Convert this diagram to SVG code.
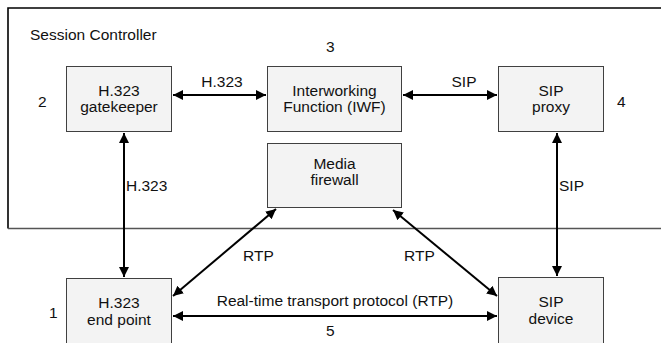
<svg xmlns="http://www.w3.org/2000/svg" width="661" height="343" viewBox="0 0 661 343">
  <defs>
    <marker id="arrow" viewBox="0 0 10 10" refX="10" refY="5" markerWidth="5.2" markerHeight="5" markerUnits="strokeWidth" orient="auto-start-reverse">
      <path d="M0,0 L10,5 L0,10 Z" fill="#000"/>
    </marker>
    <style>
      text { font-family: "Liberation Sans", Arial, sans-serif; font-size: 15.5px; fill: #111; }
      .c { text-anchor: middle; }
      .box { fill: #f3f3f3; stroke: #404040; stroke-width: 1; }
      .link { stroke: #000; stroke-width: 2; fill: none; marker-start: url(#arrow); marker-end: url(#arrow); }
    </style>
  </defs>
  <rect width="661" height="343" fill="#fff"/>

  <!-- Session controller boundary -->
  <g id="session-controller">
    <path d="M661,8 H8 V228.5" fill="none" stroke="#000" stroke-width="1.6"/>
    <path d="M8,228.5 H661" fill="none" stroke="#555" stroke-width="1.6"/>
    <text x="30" y="40">Session Controller</text>
  </g>

  <g id="gatekeeper">
    <rect class="box" x="66.5" y="66.5" width="105" height="65"/>
    <text class="c" x="119" y="96">H.323</text>
    <text class="c" x="119" y="112">gatekeeper</text>
    <text x="38" y="107">2</text>
  </g>

  <g id="iwf">
    <rect class="box" x="267.5" y="66.5" width="134" height="65"/>
    <text class="c" x="334.5" y="96">Interworking</text>
    <text class="c" x="334.5" y="112">Function (IWF)</text>
    <text x="326" y="52">3</text>
  </g>

  <g id="sip-proxy">
    <rect class="box" x="498.5" y="66.5" width="105" height="65"/>
    <text class="c" x="551" y="96">SIP</text>
    <text class="c" x="551" y="112">proxy</text>
    <text x="617" y="107">4</text>
  </g>

  <g id="media-firewall">
    <rect class="box" x="267.5" y="143.5" width="134" height="64"/>
    <text class="c" x="334.5" y="169">Media</text>
    <text class="c" x="334.5" y="185">firewall</text>
  </g>

  <g id="h323-endpoint">
    <rect class="box" x="66.5" y="278.5" width="105" height="70"/>
    <text class="c" x="119" y="308">H.323</text>
    <text class="c" x="119" y="325">end point</text>
    <text x="49" y="318">1</text>
  </g>

  <g id="sip-device">
    <rect class="box" x="498.5" y="277.5" width="105" height="70"/>
    <text class="c" x="551" y="307">SIP</text>
    <text class="c" x="551" y="324">device</text>
  </g>

  <g id="connectors">
    <line class="link" x1="173" y1="95" x2="266" y2="95"/>
    <line class="link" x1="403" y1="95" x2="497" y2="95"/>
    <line class="link" x1="124" y1="133" x2="124" y2="277"/>
    <line class="link" x1="557" y1="133" x2="557" y2="276"/>
    <line class="link" x1="276" y1="209" x2="173" y2="296"/>
    <line class="link" x1="393" y1="210" x2="497" y2="296"/>
    <line class="link" x1="173" y1="316" x2="497" y2="316"/>
  </g>

  <g id="connector-labels">
    <text class="c" x="222" y="87">H.323</text>
    <text class="c" x="464" y="87">SIP</text>
    <text x="126" y="191">H.323</text>
    <text x="559" y="191">SIP</text>
    <text x="243" y="261">RTP</text>
    <text x="404" y="261">RTP</text>
    <text class="c" x="335" y="306">Real-time transport protocol (RTP)</text>
    <text x="326" y="336">5</text>
  </g>
</svg>
